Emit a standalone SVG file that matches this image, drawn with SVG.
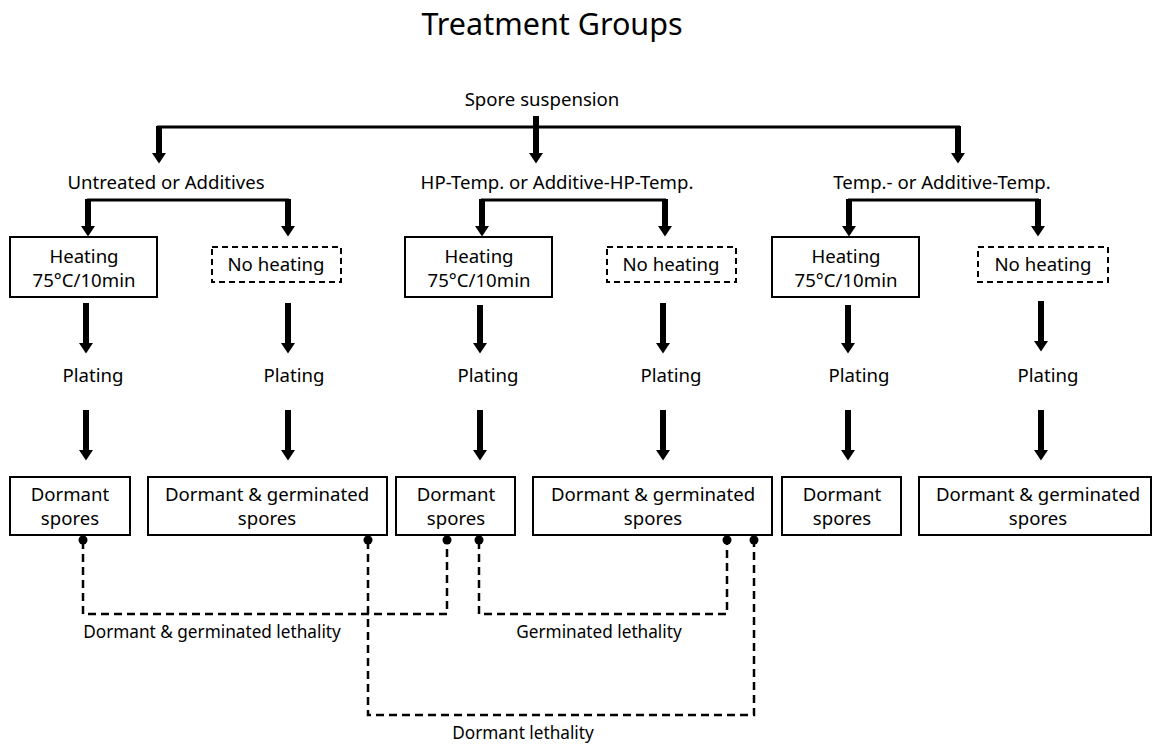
<svg xmlns="http://www.w3.org/2000/svg" width="1152" height="746" viewBox="0 0 1152 746">
<style>
text{font-family:"Noto Sans","Liberation Sans",sans-serif;fill:#000;text-anchor:middle}
.t{font-size:30.5px}
.n{font-size:18.6px}
.s{font-size:17.2px}
.box{fill:#fff;stroke:#000;stroke-width:2}
.dbox{fill:#fff;stroke:#000;stroke-width:2;stroke-dasharray:6 4}
.h{stroke:#000;stroke-width:3;fill:none}
.v{stroke:#000;stroke-width:6;fill:none;marker-end:url(#ah)}
.d{stroke:#000;stroke-width:2.5;fill:none;stroke-dasharray:8 5}
</style>
<defs>
<marker id="ah" markerUnits="userSpaceOnUse" markerWidth="16" markerHeight="14" viewBox="0 0 12 16" refX="0" refY="8" orient="auto">
<path d="M0,0 L12,8 L0,16 z" fill="#000"/>
</marker>
</defs>
<text class="t" x="552" y="35">Treatment Groups</text>

<g id="connectors">
<path class="h" d="M157,127 H960"/>
<path class="v" d="M159,126 V153"/>
<path class="v" d="M536,116 V153"/>
<path class="v" d="M958,126 V153"/>

<path class="h" d="M87,200 H289"/>
<path class="v" d="M88,199 V226"/>
<path class="v" d="M288,199 V226"/>
<path class="h" d="M481,200 H666"/>
<path class="v" d="M482,199 V226"/>
<path class="v" d="M665,199 V226"/>
<path class="h" d="M848,200 H1039"/>
<path class="v" d="M849,199 V226"/>
<path class="v" d="M1038,199 V226"/>

<path class="v" d="M86,303 V343"/>
<path class="v" d="M288,303 V343"/>
<path class="v" d="M480,305 V343"/>
<path class="v" d="M663,303 V343"/>
<path class="v" d="M848,305 V343"/>
<path class="v" d="M1041,301 V341"/>

<path class="v" d="M86,410 V450"/>
<path class="v" d="M288,410 V450"/>
<path class="v" d="M480,410 V450"/>
<path class="v" d="M663,410 V450"/>
<path class="v" d="M848,410 V450"/>
<path class="v" d="M1041,410 V450"/>

<path class="d" d="M83,541 V614 H447 V541"/>
<path class="d" d="M479,541 V614 H727 V541"/>
<path class="d" d="M368,541 V715 H754 V541"/>
<g fill="#000">
<circle cx="83" cy="540" r="4.5"/>
<circle cx="368" cy="540" r="4.5"/>
<circle cx="447" cy="540" r="4.5"/>
<circle cx="479" cy="540" r="4.5"/>
<circle cx="727" cy="540" r="4.5"/>
<circle cx="754" cy="540" r="4.5"/>
</g>
<text class="s" x="212" y="638">Dormant &amp; germinated lethality</text>
<text class="s" x="599" y="638">Germinated lethality</text>
<text class="s" x="523" y="739">Dormant lethality</text>
</g>

<g id="spore"><text class="n" x="542" y="106">Spore suspension</text></g>
<g id="g1"><text class="n" x="166" y="189">Untreated or Additives</text></g>
<g id="g2"><text class="n" x="557" y="189">HP-Temp. or Additive-HP-Temp.</text></g>
<g id="g3"><text class="n" x="942" y="189">Temp.- or Additive-Temp.</text></g>

<g id="heat1"><rect class="box" x="10" y="237" width="147" height="60"/><text class="n" x="84" y="263">Heating</text><text class="n" x="84" y="287">75°C/10min</text></g>
<g id="noheat1"><rect class="dbox" x="212" y="247" width="129" height="35"/><text class="n" x="276" y="271">No heating</text></g>
<g id="heat2"><rect class="box" x="405" y="237" width="147" height="60"/><text class="n" x="479" y="263">Heating</text><text class="n" x="479" y="287">75°C/10min</text></g>
<g id="noheat2"><rect class="dbox" x="607" y="247" width="129" height="35"/><text class="n" x="671" y="271">No heating</text></g>
<g id="heat3"><rect class="box" x="772" y="237" width="147" height="60"/><text class="n" x="846" y="263">Heating</text><text class="n" x="846" y="287">75°C/10min</text></g>
<g id="noheat3"><rect class="dbox" x="978" y="247" width="130" height="35"/><text class="n" x="1043" y="271">No heating</text></g>

<g id="plate1"><text class="n" x="93" y="382">Plating</text></g>
<g id="plate2"><text class="n" x="294" y="382">Plating</text></g>
<g id="plate3"><text class="n" x="488" y="382">Plating</text></g>
<g id="plate4"><text class="n" x="671" y="382">Plating</text></g>
<g id="plate5"><text class="n" x="859" y="382">Plating</text></g>
<g id="plate6"><text class="n" x="1048" y="382">Plating</text></g>

<g id="res1"><rect class="box" x="10" y="477" width="120" height="58"/><text class="n" x="70" y="501">Dormant</text><text class="n" x="70" y="525">spores</text></g>
<g id="res2"><rect class="box" x="148" y="477" width="239" height="58"/><text class="n" x="267" y="501">Dormant &amp; germinated</text><text class="n" x="267" y="525">spores</text></g>
<g id="res3"><rect class="box" x="396" y="477" width="119" height="58"/><text class="n" x="456" y="501">Dormant</text><text class="n" x="456" y="525">spores</text></g>
<g id="res4"><rect class="box" x="533" y="477" width="239" height="58"/><text class="n" x="653" y="501">Dormant &amp; germinated</text><text class="n" x="653" y="525">spores</text></g>
<g id="res5"><rect class="box" x="782" y="477" width="119" height="58"/><text class="n" x="842" y="501">Dormant</text><text class="n" x="842" y="525">spores</text></g>
<g id="res6"><rect class="box" x="919" y="477" width="232" height="58"/><text class="n" x="1038" y="501">Dormant &amp; germinated</text><text class="n" x="1038" y="525">spores</text></g>
</svg>
